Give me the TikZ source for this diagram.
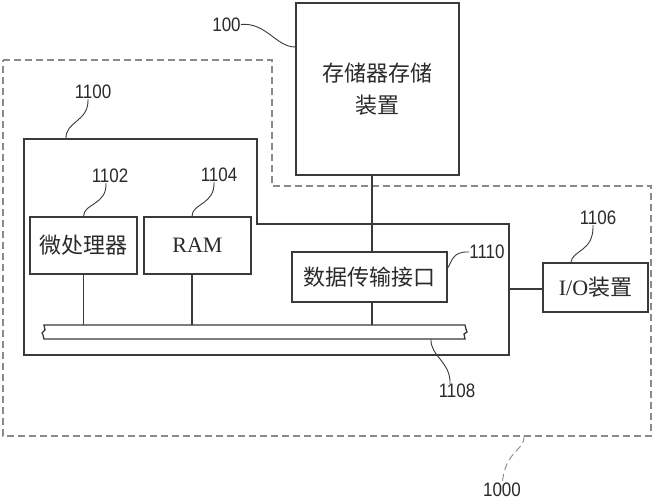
\documentclass[tikz,border=0pt]{standalone}
\usepackage{fontspec}
\setmainfont{Liberation Serif}
\newfontfamily\cjk{Noto Sans CJK SC}
\newfontfamily\labfont[FakeStretch=0.87]{Liberation Sans}
\definecolor{linec}{HTML}{3A3A3A}
\definecolor{dashc}{HTML}{8A8A8A}
\definecolor{txtc}{HTML}{2A2A2A}
\begin{document}
\begin{tikzpicture}[x=1pt,y=-1pt,
  box/.style={draw=linec, line width=1.3pt, inner sep=0pt, align=center, text=txtc},
  wire/.style={draw=linec, line width=1.3pt},
  lead/.style={draw=linec, line width=0.9pt},
  outline/.style={draw=dashc, line width=1.2pt, dash pattern=on 7pt off 4pt},
  num/.style={font=\labfont\fontsize{19.5}{20}\selectfont, text=txtc, inner sep=0pt},
  zh/.style={font=\cjk\fontsize{22}{32}\selectfont},
  lat/.style={font=\fontsize{22}{26}\selectfont}
]
\useasboundingbox (0,0) rectangle (654,500);
\fill[white] (0,0) rectangle (654,500);

% outer dashed boundary 1000
\draw[outline] (3,60) -- (272,60) -- (272,186) -- (651,186) -- (651,436) -- (3,436) -- cycle;
% microcontroller outline 1100
\draw[wire] (24,139) -- (257,139) -- (257,224) -- (509,224) -- (509,355) -- (24,355) -- cycle;

% blocks
\node[box, zh, minimum width=163pt, minimum height=172pt] (mem) at (377.5,89) {存储器存储\\装置};
\node[box, zh, minimum width=107pt, minimum height=57pt] (cpu) at (83.5,245.5) {微处理器};
\node[box, lat, minimum width=107pt, minimum height=57pt] (ram) at (197.5,245.5) {RAM};
\node[box, zh, minimum width=155pt, minimum height=50pt] (dti) at (369.5,277) {数据传输接口};
\node[box, minimum width=105pt, minimum height=49pt] (io) at (595.5,287.5) {\fontsize{22}{26}\selectfont I/O\cjk 装置};

% bus 1108
\draw[wire] (44,325) -- (465,325) -- (466,329) -- (467,332) -- (464,334) -- (465,339)
  -- (44,339) -- (43,335) -- (42,333) -- (45,330) -- cycle;
\coordinate (busTop) at (0,325);
\coordinate (busBot) at (431,339);
\coordinate (outR) at (509,289);
\coordinate (outB) at (524,436);

% connectors
\draw[wire] (cpu.south) -- (cpu.south |- busTop);
\draw[wire] ([xshift=-5.5pt]ram.south) -- ([xshift=-5.5pt]ram.south |- busTop);
\draw[wire] ([xshift=-5.5pt]mem.south) -- ([xshift=2.5pt]dti.north);
\draw[wire] ([xshift=2.5pt]dti.south) -- ([xshift=2.5pt]dti.south |- busTop);
\draw[wire] (outR) -- (io.west |- outR);

% reference labels
\node[num] (l100) at (226.5,24.5) {100};
\node[num] (l1100) at (93,92) {1100};
\node[num] (l1102) at (110,176) {1102};
\node[num] (l1104) at (219,175) {1104};
\node[num] (l1110) at (487,252) {1110};
\node[num] (l1106) at (598,218) {1106};
\node[num] (l1108) at (457,391) {1108};
\node[num] (l1000) at (502,490) {1000};

% leaders
\draw[lead] (l100.east) .. controls (266,22) and (276,47) .. (mem.west |- 0,47);
\draw[lead] ([xshift=-5pt]l1100.south) .. controls (89,122) and (65,121) .. (66,139);
\draw[lead] ([xshift=-4pt]l1102.south) .. controls (107,205) and (84,203) .. (cpu.north);
\draw[lead] ([xshift=-5pt]l1104.south) .. controls (215,205) and (192,203) .. ([xshift=-5.5pt]ram.north);
\draw[lead] (dti.east |- 0,268) .. controls (452,262) and (452,251) .. (l1110.west);
\draw[lead] ([xshift=-5pt]l1106.south) .. controls (594,252) and (572,250) .. ([xshift=-24.5pt]io.north);
\draw[lead] (busBot) .. controls (430,356) and (451,362) .. ([xshift=-7pt]l1108.north);
\draw[lead, dash pattern=on 7pt off 4pt, draw=dashc] (outB) .. controls (525,452) and (502,450) .. ([yshift=-8pt]l1000.north);
\end{tikzpicture}
\end{document}
